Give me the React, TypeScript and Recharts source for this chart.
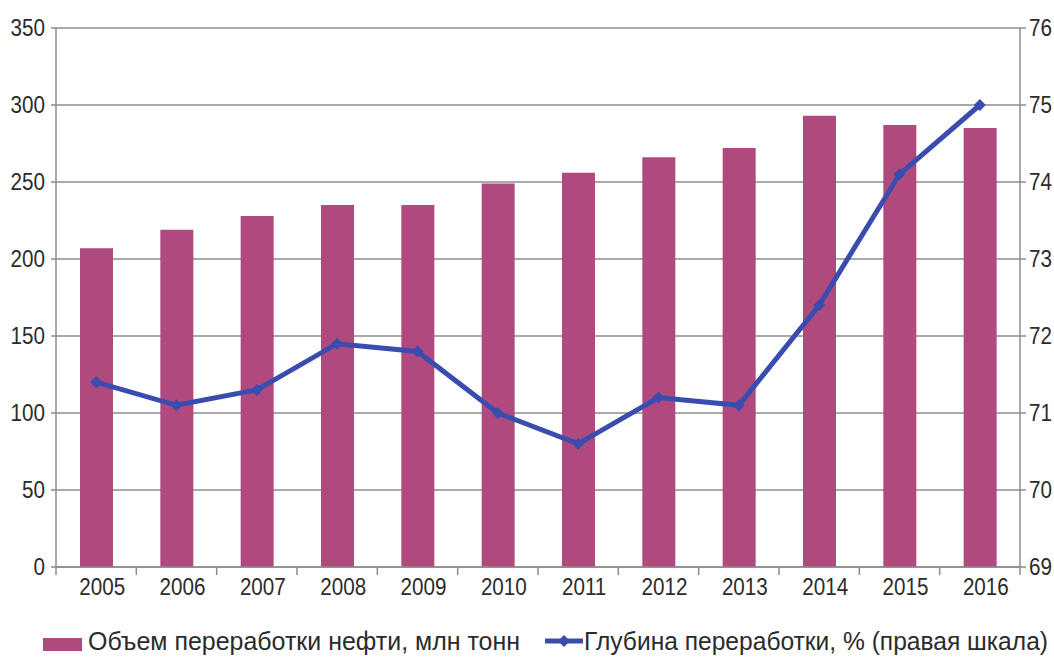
import { ComposedChart, Bar, Line, XAxis, YAxis, CartesianGrid } from 'recharts'

const years = ['2005', '2006', '2007', '2008', '2009', '2010', '2011', '2012', '2013', '2014', '2015', '2016']
const refiningVolume = [207, 219, 228, 235, 235, 249, 256, 266, 272, 293, 287, 285]
const refiningDepth = [71.4, 71.1, 71.3, 71.9, 71.8, 71.0, 70.6, 71.2, 71.1, 72.4, 74.1, 75.0]
const leftTicks = [0, 50, 100, 150, 200, 250, 300, 350]
const rightTicks = [69, 70, 71, 72, 73, 74, 75, 76]
const edgeTicks = [0, 1, 2, 3, 4, 5, 6, 7, 8, 9, 10, 11, 12]

const data = years.map((year, i) => ({
  year,
  pos: i + 0.5,
  volume: refiningVolume[i],
  depth: refiningDepth[i],
}))

const FONT = '"Liberation Sans", Arial, sans-serif'
const SQUEEZE = 0.86
const BAR_COLOR = '#b04a7e'
const LINE_COLOR = '#3a4cae'
const AXIS_COLOR = '#8c8c8c'
const TEXT_COLOR = '#2b2b2b'
const PLOT_LEFT = 56
const PLOT_RIGHT = 1020
const BAND = (PLOT_RIGHT - PLOT_LEFT) / years.length

type TickProps = { x?: number; y?: number; payload?: { value: number | string } }

// narrow digits, like a condensed typeface
function SqueezedText({ x, y, anchor, children }: { x: number; y: number; anchor: 'start' | 'middle' | 'end'; children: string }) {
  return (
    <text
      transform={`translate(${x},${y}) scale(${SQUEEZE},1)`}
      textAnchor={anchor}
      fontFamily={FONT}
      fontSize={24}
      fill={TEXT_COLOR}
    >
      {children}
    </text>
  )
}

function LeftTick({ x = 0, y = 0, payload }: TickProps) {
  return <SqueezedText x={x} y={y + 8} anchor="end">{String(payload?.value)}</SqueezedText>
}

function RightTick({ x = 0, y = 0, payload }: TickProps) {
  return <SqueezedText x={x} y={y + 8} anchor="start">{String(payload?.value)}</SqueezedText>
}

// year labels sit in the middle of each band between the edge ticks
function YearTick({ x = 0, y = 0, payload }: TickProps) {
  const k = Number(payload?.value)
  if (k >= years.length) return null
  return <SqueezedText x={x + BAND / 2 + 6} y={y + 18} anchor="middle">{years[k]}</SqueezedText>
}

function Diamond({ cx, cy }: { cx?: number; cy?: number }) {
  if (cx == null || cy == null) return null
  const r = 6
  return <path d={`M${cx},${cy - r}L${cx + r},${cy}L${cx},${cy + r}L${cx - r},${cy}Z`} fill={LINE_COLOR} />
}

function ChartLegend() {
  return (
    <svg width={1054} height={40} style={{ position: 'absolute', left: 0, top: 620 }}>
      <rect x={43} y={18} width={39} height={13} fill={BAR_COLOR} />
      <text x={88} y={30} fontFamily={FONT} fontSize={26} fill={TEXT_COLOR} textLength={432} lengthAdjust="spacingAndGlyphs">
        Объем переработки нефти, млн тонн
      </text>
      <line x1={545} y1={21} x2={583} y2={21} stroke={LINE_COLOR} strokeWidth={5} />
      <path d="M564,15L570,21L564,27L558,21Z" fill={LINE_COLOR} />
      <text x={584} y={30} fontFamily={FONT} fontSize={26} fill={TEXT_COLOR} textLength={464} lengthAdjust="spacingAndGlyphs">
        Глубина переработки, % (правая шкала)
      </text>
    </svg>
  )
}

export default function App() {
  return (
    <div style={{ position: 'absolute', left: 0, top: 0, width: 1054, height: 657, background: '#fff' }}>
      <ComposedChart width={1054} height={657} data={data} margin={{ top: 28, right: 0, left: 0, bottom: 50 }}>
        <CartesianGrid vertical={false} stroke={AXIS_COLOR} strokeWidth={1.5} yAxisId="left" />
        <XAxis dataKey="year" hide height={0} />
        {/* tick marks between the year groups, with the year names */}
        <XAxis
          xAxisId="edges"
          type="number"
          dataKey="pos"
          domain={[0, 12]}
          ticks={edgeTicks}
          allowDataOverflow
          interval={0}
          height={40}
          tick={<YearTick />}
          tickSize={8}
          axisLine={{ stroke: AXIS_COLOR, strokeWidth: 1.5 }}
          tickLine={{ stroke: AXIS_COLOR, strokeWidth: 1.5 }}
        />
        <YAxis
          yAxisId="left"
          width={PLOT_LEFT}
          domain={[0, 350]}
          ticks={leftTicks}
          interval={0}
          tick={<LeftTick />}
          tickSize={5}
          tickMargin={6}
          axisLine={{ stroke: AXIS_COLOR, strokeWidth: 1.5 }}
          tickLine={{ stroke: AXIS_COLOR, strokeWidth: 1.5 }}
        />
        <YAxis
          yAxisId="right"
          orientation="right"
          width={1054 - PLOT_RIGHT}
          domain={[69, 76]}
          ticks={rightTicks}
          interval={0}
          tick={<RightTick />}
          tickSize={6}
          tickMargin={3}
          axisLine={{ stroke: AXIS_COLOR, strokeWidth: 1.5 }}
          tickLine={{ stroke: AXIS_COLOR, strokeWidth: 1.5 }}
        />
        <Bar yAxisId="left" dataKey="volume" fill={BAR_COLOR} barSize={33} isAnimationActive={false} />
        <Line
          yAxisId="right"
          dataKey="depth"
          type="linear"
          stroke={LINE_COLOR}
          strokeWidth={5}
          dot={<Diamond />}
          activeDot={false}
          isAnimationActive={false}
        />
      </ComposedChart>
      <ChartLegend />
    </div>
  )
}
